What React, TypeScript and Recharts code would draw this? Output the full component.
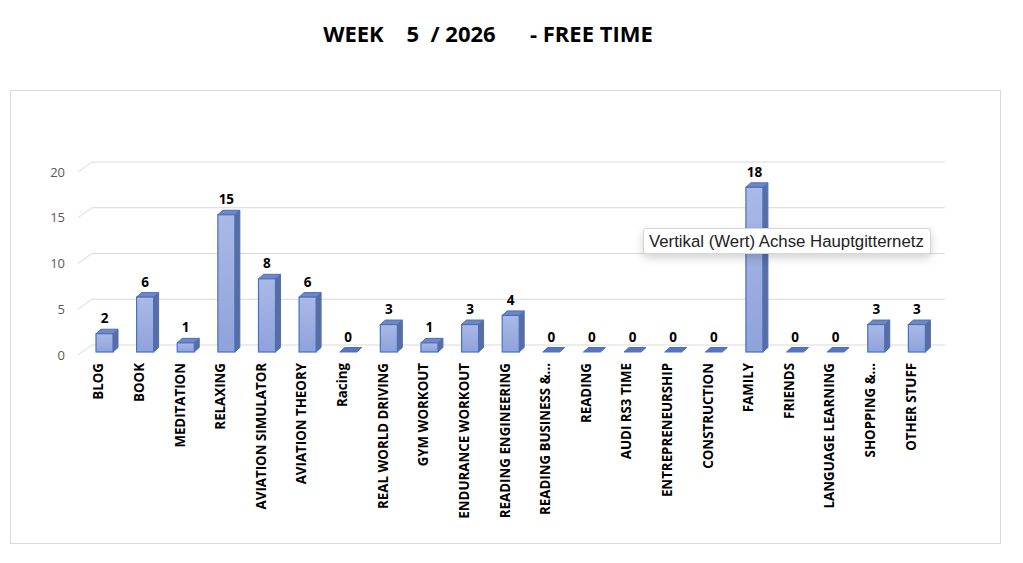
import React from "react";
import { BarChart, Bar, XAxis, YAxis, CartesianGrid, LabelList } from "recharts";

const categories = [
  "BLOG", "BOOK", "MEDITATION", "RELAXING", "AVIATION SIMULATOR", "AVIATION THEORY", "Racing",
  "REAL WORLD DRIVING", "GYM WORKOUT", "ENDURANCE WORKOUT", "READING ENGINEERING",
  "READING BUSINESS &...", "READING", "AUDI RS3 TIME", "ENTREPRENEURSHIP", "CONSTRUCTION",
  "FAMILY", "FRIENDS", "LANGUAGE LEARNING", "SHOPPING &...", "OTHER STUFF",
];
const hours = [2, 6, 1, 15, 8, 6, 0, 3, 1, 3, 4, 0, 0, 0, 0, 0, 18, 0, 0, 3, 3];
const yTicks = [0, 5, 10, 15, 20];
const titleText = "WEEK    5  / 2026      - FREE TIME";
const tooltipText = "Vertikal (Wert) Achse Hauptgitternetz";

const data = categories.map((name, i) => ({ name, value: hours[i] }));

const SHIFT_X = 6;
const SHIFT_Y = -3;
const DX = 5;
const DY = -4.5;

function Bar3D(props: any) {
  const { x, y, width, height } = props;
  const X = x + SHIFT_X;
  const Y = y + SHIFT_Y;
  const w = width;
  const h = height;
  if (!h || h < 0.5) {
    const pts = `${X},${Y} ${X + w},${Y} ${X + w + DX},${Y + DY} ${X + DX},${Y + DY}`;
    return <polygon points={pts} fill="#5b74c2" stroke="#4472c4" strokeWidth={1} />;
  }
  const side = `${X + w},${Y} ${X + w + DX},${Y + DY} ${X + w + DX},${Y + h + DY} ${X + w},${Y + h}`;
  const top = `${X},${Y} ${X + DX},${Y + DY} ${X + w + DX},${Y + DY} ${X + w},${Y}`;
  return (
    <g>
      <polygon points={side} fill="#5e6c9c" stroke="#4472c4" strokeWidth={1} />
      <polygon points={top} fill="#7486bb" stroke="#4472c4" strokeWidth={1} />
      <rect x={X} y={Y} width={w} height={h} fill="url(#frontGrad)" stroke="#4472c4" strokeWidth={1.2} />
    </g>
  );
}

function ValueLabel(props: any) {
  const { x, y, width, value } = props;
  const cx = x + SHIFT_X + width / 2;
  const baseline = y + SHIFT_Y + DY - 6;
  return (
    <text x={cx} y={baseline} textAnchor="middle" fontFamily="'Open Sans', sans-serif" fontWeight={700} fontSize={13.5} fill="#000">
      {value}
    </text>
  );
}

function XTick(props: any) {
  const { x, payload } = props;
  const y = 363;
  return (
    <text
      x={x}
      y={y}
      transform={`rotate(-90, ${x}, ${y})`}
      textAnchor="end"
      dominantBaseline="central"
      fontFamily="'Open Sans', sans-serif"
      fontWeight={700}
      fontSize={13.3}
      fill="#000"
    >
      {payload.value}
    </text>
  );
}

function GridLine(props: any) {
  const { x1, y1, x2, index } = props;
  const bx = 14;
  const by = -10;
  return (
    <polyline
      key={`gl-${index}-${y1}`}
      points={`${x1},${y1} ${x1 + bx},${y1 + by} ${x2 + bx},${y1 + by}`}
      fill="none"
      stroke="#d9d9d9"
      strokeWidth={1}
    />
  );
}

export default function App() {
  return (
    <div style={{ position: "absolute", left: 0, top: 0, width: 1023, height: 563, background: "#fff" }}>
      <div
        style={{
          position: "absolute",
          left: 0,
          top: 19,
          width: 976,
          textAlign: "center",
          whiteSpace: "pre",
          fontFamily: "'Open Sans', sans-serif",
          fontWeight: 700,
          fontSize: 22,
          lineHeight: "28px",
          color: "#000",
        }}
      >
        {titleText}
      </div>
      <div
        style={{
          position: "absolute",
          left: 10,
          top: 90,
          width: 989,
          height: 452,
          border: "1px solid #d9d9d9",
        }}
      />
      <div style={{ position: "absolute", left: 0, top: 0 }}>
        <BarChart
          width={1023}
          height={563}
          data={data}
          margin={{ top: 172, right: 92, bottom: 178, left: 0 }}
          barSize={17}
        >
          <defs>
            <linearGradient id="frontGrad" x1="0" y1="0" x2="0" y2="1">
              <stop offset="0%" stopColor="#aab9e6" />
              <stop offset="100%" stopColor="#8fa2da" />
            </linearGradient>
          </defs>
          <CartesianGrid vertical={false} horizontal={(p: any) => <GridLine {...p} />} />
          <XAxis
            dataKey="name"
            interval={0}
            height={30}
            axisLine={false}
            tickLine={false}
            tick={<XTick />}
          />
          <YAxis
            width={78}
            domain={[0, 20]}
            ticks={yTicks}
            axisLine={false}
            tickLine={false}
            tickMargin={7}
            tick={{ fill: "#595959", fontSize: 13, fontFamily: "'Open Sans', sans-serif" }}
          />
          <Bar dataKey="value" shape={<Bar3D />} isAnimationActive={false}>
            <LabelList dataKey="value" content={<ValueLabel />} />
          </Bar>
        </BarChart>
      </div>
      <div
        style={{
          position: "absolute",
          left: 643,
          top: 228,
          width: 288,
          height: 26,
          background: "#fff",
          border: "1px solid #d6d6d6",
          borderRadius: 3,
          boxShadow: "0 4px 10px rgba(0,0,0,0.18)",
          fontFamily: "'Liberation Sans', Arial, sans-serif",
          fontSize: 16.8,
          lineHeight: "26px",
          color: "#222",
          paddingLeft: 5,
          boxSizing: "border-box",
          whiteSpace: "nowrap",
        }}
      >
        {tooltipText}
      </div>
    </div>
  );
}
